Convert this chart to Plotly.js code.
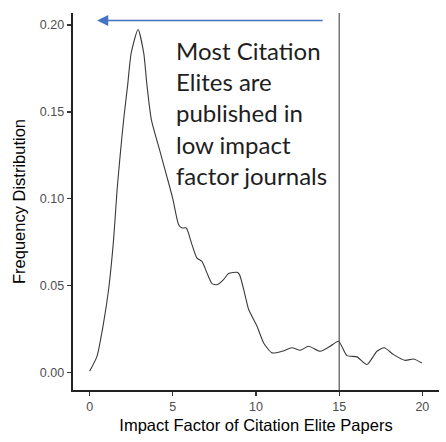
<!DOCTYPE html>
<html>
<head>
<meta charset="utf-8">
<script src="https://cdn.plot.ly/plotly-3.0.1.min.js"></script>
<style>html,body{margin:0;padding:0;background:#fff;}#chart{width:446px;height:442px;}</style>
</head>
<body>
<div id="chart"></div>
<script>
var impactFactor = [0, 0.44, 0.84, 1.14, 1.44, 1.65, 1.85, 2.06, 2.28, 2.50, 2.91, 3.25, 3.45, 3.71, 4.25, 4.81, 5.01, 5.35, 5.55, 5.81, 6.15, 6.45, 6.75, 7.05, 7.36, 7.66, 8.05, 8.35, 8.86, 9.01, 9.36, 9.56, 10.06, 10.46, 10.96, 11.56, 12.16, 12.66, 13.16, 13.86, 14.46, 14.96, 15.47, 16.07, 16.67, 17.27, 17.71, 18.27, 18.97, 19.47, 19.97];
var frequency = [0.001, 0.0095, 0.0289, 0.0479, 0.0766, 0.1053, 0.1266, 0.147, 0.165, 0.184, 0.1974, 0.184, 0.165, 0.1456, 0.1266, 0.107, 0.0996, 0.0852, 0.0833, 0.0833, 0.0737, 0.066, 0.0641, 0.0575, 0.0513, 0.0507, 0.0536, 0.0571, 0.0578, 0.0565, 0.044, 0.0364, 0.0268, 0.0172, 0.0115, 0.0124, 0.0144, 0.013, 0.0153, 0.0124, 0.0153, 0.0182, 0.0099, 0.0092, 0.0048, 0.0124, 0.0144, 0.0105, 0.0072, 0.008, 0.0057];
var xTicks = [0, 5, 10, 15, 20];
var yTicks = [0.00, 0.05, 0.10, 0.15, 0.20];
var yTickLabels = ["0.00", "0.05", "0.10", "0.15", "0.20"];
var cutoff = 15;
var noteLines = ["Most Citation", "Elites are", "published in", "low impact", "factor journals"];

var trace = {
  x: impactFactor, y: frequency, type: 'scatter', mode: 'lines',
  line: {color: '#3a3a3a', width: 1.1, shape: 'spline', smoothing: 0.6},
  hoverinfo: 'skip'
};

var layout = {
  width: 446, height: 442,
  margin: {l: 73, r: 7, t: 13, b: 52},
  paper_bgcolor: '#fff', plot_bgcolor: '#fff',
  showlegend: false,
  font: {family: 'Liberation Sans, Arial, sans-serif'},
  xaxis: {
    range: [-1, 21], tickvals: xTicks, ticktext: xTicks.map(String),
    showgrid: false, zeroline: false,
    showline: true, linecolor: '#222', linewidth: 1.8,
    ticks: 'outside', ticklen: 4.5, tickwidth: 1.1, tickcolor: '#333',
    tickfont: {size: 12.5, color: '#4d4d4d'},
    title: {text: 'Impact Factor of Citation Elite Papers', font: {size: 16.5, color: '#000'}, standoff: 6}
  },
  yaxis: {
    range: [-0.00985, 0.2069], tickvals: yTicks, ticktext: yTickLabels,
    showgrid: false, zeroline: false,
    showline: true, linecolor: '#222', linewidth: 1.8,
    ticks: 'outside', ticklen: 4.5, tickwidth: 1.1, tickcolor: '#333',
    tickfont: {size: 12.5, color: '#4d4d4d'},
    title: {text: 'Frequency Distribution', font: {size: 16.5, color: '#000'}, standoff: 10}
  },
  shapes: [{
    type: 'line', xref: 'x', yref: 'paper', x0: cutoff, x1: cutoff, y0: 0, y1: 1,
    line: {color: '#444', width: 1.1}
  }],
  annotations: [
    {
      xref: 'x', yref: 'y', x: 0.445, y: 0.2026, axref: 'x', ayref: 'y', ax: 14.1, ay: 0.2026,
      showarrow: true, arrowhead: 2, arrowsize: 1.6, arrowwidth: 1.4, arrowcolor: '#4472C4', text: ''
    },
    {
      xref: 'x', yref: 'y', x: 5.1, y: 0.1494, xanchor: 'left', yanchor: 'middle', align: 'left',
      showarrow: false, text: noteLines.join('<br>'),
      font: {family: 'Lato, sans-serif', size: 24, color: '#1e1e1e'}
    }
  ]
};

Plotly.newPlot('chart', [trace], layout, {displayModeBar: false, staticPlot: true});
</script>
</body>
</html>
